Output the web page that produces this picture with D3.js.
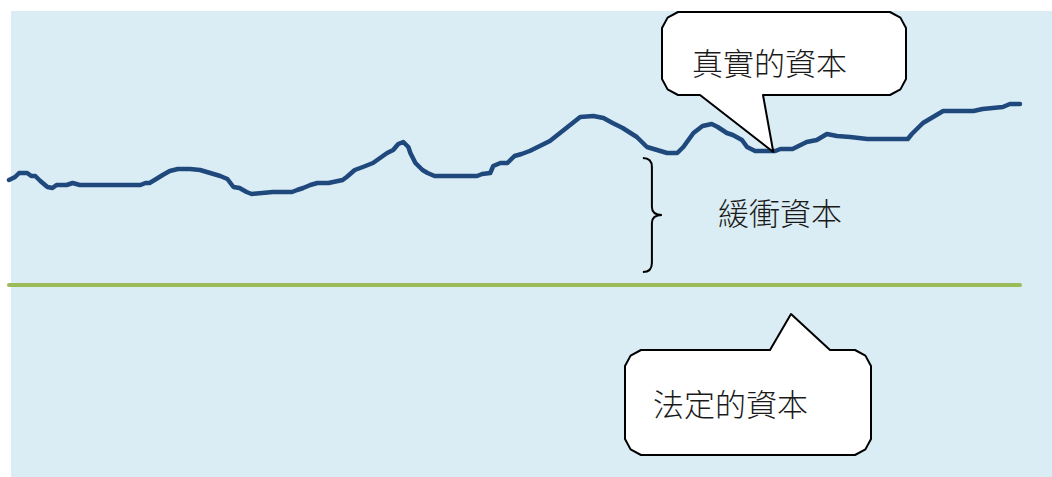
<!DOCTYPE html>
<html>
<head>
<meta charset="utf-8">
<script src="https://cdn.jsdelivr.net/npm/d3@7"></script>
<style>
  html, body { margin: 0; padding: 0; background: #fff; }
  svg { display: block; }
  text { font-family: "Noto Sans CJK TC", "Noto Sans CJK SC", sans-serif; font-weight: 300; fill: #1a1a1a; }
</style>
</head>
<body>
<div id="chart"></div>
<script>
// time index (0-100) and capital level of the actual capital line
var times = [0, 0.6, 1.0, 1.8, 2.2, 2.6, 3.1, 3.8, 4.3, 4.7, 5.7, 6.3, 7.0, 13.0, 13.5, 13.9, 14.4, 15.2, 15.9, 16.7,
    17.9, 18.9, 19.9, 20.9, 21.6, 22.2, 22.8, 23.5, 24.0, 26.1, 28.0, 28.5, 29.1, 29.8, 30.5, 31.6, 33.0, 33.4, 34.2, 35.0,
    36.0, 36.7, 37.4, 38.0, 38.5, 39.0, 39.5, 39.7, 40.2, 40.9, 41.4, 42.1, 46.3, 46.8, 47.6, 47.9, 48.6, 49.3, 50.0, 50.7,
    51.5, 52.5, 53.5, 54.5, 55.5, 56.5, 57.8, 58.8, 59.7, 60.7, 62.1, 63.1, 64.1, 65.1, 66.1, 66.7, 67.7, 68.6, 69.5, 70.1,
    71.0, 71.6, 72.5, 73.0, 73.8, 75.8, 76.3, 77.5, 78.9, 79.9, 80.9, 81.9, 83.2, 84.9, 88.9, 89.3, 90.4, 91.4, 92.4, 95.4,
    96.3, 98.3, 99.0, 100];
var actualCapital = [66.25, 67, 68, 68, 67.25, 67.25, 66, 64.5, 64.25, 65, 65, 65.5, 65, 65, 65.5, 65.5, 66.25, 67.5, 68.5, 69,
    69, 68.75, 68, 67.25, 66.5, 64.5, 64.25, 63.25, 62.75, 63.25, 63.25, 63.75, 64.25, 65, 65.5, 65.5, 66.25, 67, 68.75, 69.5,
    70.5, 71.75, 73, 73.75, 75.25, 75.75, 74.5, 73, 70.5, 68.75, 68, 67.25, 67.25, 67.75, 68, 69.75, 70.5, 70.5, 72.25, 72.75,
    73.5, 74.75, 76, 78, 80, 82, 82.25, 81.75, 80.5, 79.25, 77, 74.5, 73.75, 73, 73, 74.5, 78, 79.75, 80.25, 79.5,
    78, 77.5, 76.25, 74.5, 73.5, 73.5, 74, 74, 75.75, 76.25, 77.75, 77.25, 77, 76.5, 76.5, 77.75, 80.5, 82, 83.5, 83.5,
    84, 84.5, 85.25, 85.25];
var regulatoryCapital = 40;
var labels = ["真實的資本", "緩衝資本", "法定的資本"];

var width = 1052,
    height = 477;

var x = d3.scaleLinear().domain([0, 100]).range([9, 1020]);
var y = d3.scaleLinear().domain([0, 100]).range([445, 45]);

var svg = d3.select("#chart")
    .append("svg")
    .attr("width", width)
    .attr("height", height);

svg.append("rect")
    .attr("x", 11)
    .attr("y", 11)
    .attr("width", width - 11)
    .attr("height", height - 11)
    .attr("fill", "#daedf4");

// regulatory capital
svg.append("line")
    .attr("x1", x(0))
    .attr("x2", x(100))
    .attr("y1", y(regulatoryCapital))
    .attr("y2", y(regulatoryCapital))
    .attr("stroke", "#9bbb59")
    .attr("stroke-width", 4)
    .attr("stroke-linecap", "round");

// actual capital
var line = d3.line()
    .x(function(d, i) { return x(times[i]); })
    .y(function(d) { return y(d); })
    .curve(d3.curveLinear);

svg.append("path")
    .datum(actualCapital)
    .attr("d", line)
    .attr("fill", "none")
    .attr("stroke", "#1f497d")
    .attr("stroke-width", 4.5)
    .attr("stroke-linejoin", "round")
    .attr("stroke-linecap", "round");

// brace for buffer capital
var bx = x(62.7), bTop = 158, bBot = 272, bMid = (bTop + bBot) / 2;
svg.append("path")
    .attr("d", "M" + bx + "," + bTop +
        " Q" + (bx + 9) + "," + bTop + " " + (bx + 9) + "," + (bTop + 9) +
        " L" + (bx + 9) + "," + (bMid - 8) +
        " Q" + (bx + 9) + "," + bMid + " " + (bx + 19) + "," + bMid +
        " Q" + (bx + 9) + "," + bMid + " " + (bx + 9) + "," + (bMid + 8) +
        " L" + (bx + 9) + "," + (bBot - 9) +
        " Q" + (bx + 9) + "," + bBot + " " + bx + "," + bBot)
    .attr("fill", "none")
    .attr("stroke", "#000")
    .attr("stroke-width", 2);

svg.append("text")
    .attr("x", 718)
    .attr("y", 211)
    .attr("dominant-baseline", "central")
    .style("font-size", "31px")
    .text(labels[1]);

// callout boxes
function callout(x0, y0, x1, y1, c, pointer) {
    var p = [];
    p.push([x0 + c, y0]);
    if (pointer.top) { p.push([pointer.a, y0], pointer.tip, [pointer.b, y0]); }
    p.push([x1 - c, y0], [x1 - c * 0.35, y0 + c * 0.35], [x1, y0 + c],
        [x1, y1 - c], [x1 - c * 0.35, y1 - c * 0.35], [x1 - c, y1]);
    if (!pointer.top) { p.push([pointer.b, y1], pointer.tip, [pointer.a, y1]); }
    p.push([x0 + c, y1], [x0 + c * 0.35, y1 - c * 0.35], [x0, y1 - c],
        [x0, y0 + c], [x0 + c * 0.35, y0 + c * 0.35]);
    svg.append("path")
        .attr("d", "M" + p.join("L") + "Z")
        .attr("fill", "#fff")
        .attr("stroke", "#000")
        .attr("stroke-width", 2)
        .attr("stroke-linejoin", "round");
}

callout(662, 12, 906, 95, 16, { top: false, a: 700, b: 763, tip: [x(75.6), y(73.5) + 1] });
svg.append("text")
    .attr("x", 692)
    .attr("y", 61)
    .attr("dominant-baseline", "central")
    .style("font-size", "31px")
    .text(labels[0]);

callout(625, 350, 871, 455, 16, { top: true, a: 770, b: 830, tip: [791, 314] });
svg.append("text")
    .attr("x", 653)
    .attr("y", 402)
    .attr("dominant-baseline", "central")
    .style("font-size", "31px")
    .text(labels[2]);
</script>
</body>
</html>
